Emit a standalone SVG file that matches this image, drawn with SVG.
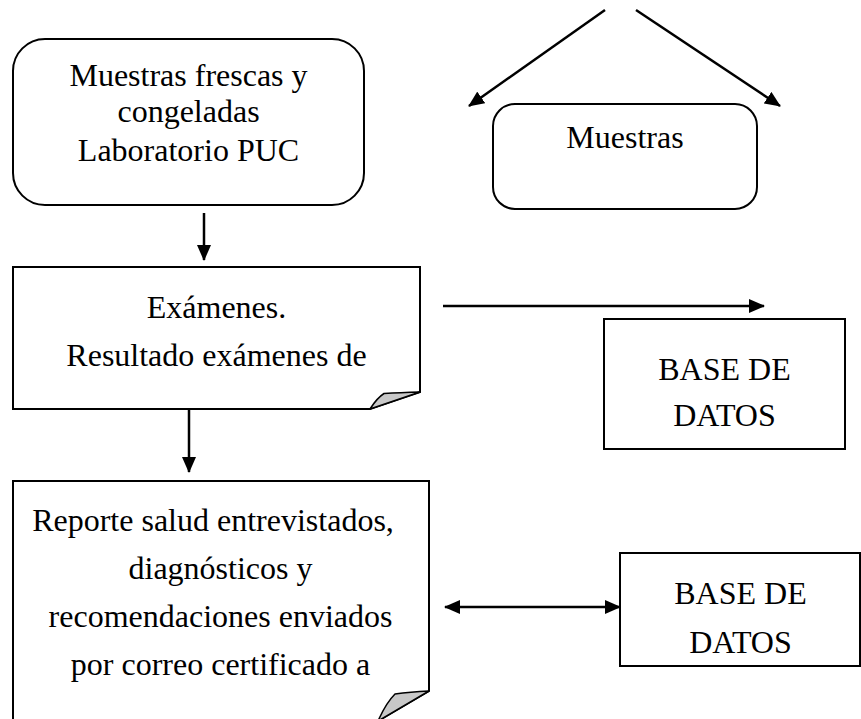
<svg xmlns="http://www.w3.org/2000/svg" width="861" height="719" viewBox="0 0 861 719">
<style>
.box{fill:#fff;stroke:#000;stroke-width:2}
.fold{fill:#c8c8c8;stroke:#000;stroke-width:1.5;stroke-linejoin:round}
.t{font-family:"Liberation Serif","Times New Roman",serif;font-size:32px;fill:#000;text-anchor:middle}
.ln{stroke:#000;stroke-width:2.5;fill:none}
</style>
<defs>
<marker id="ah" viewBox="0 0 16 14" refX="15" refY="7" markerWidth="16" markerHeight="14" markerUnits="userSpaceOnUse" orient="auto-start-reverse">
<path d="M0,0 L16,7 L0,14 Z" fill="#000"/>
</marker>
</defs>
<rect width="861" height="719" fill="#fff"/>
<g id="muestras-frescas">
<rect class="box" x="13" y="39" width="351" height="166" rx="32" ry="32"/>
<text class="t" x="188.5" y="86">Muestras frescas y</text>
<text class="t" x="188.5" y="122">congeladas</text>
<text class="t" x="188.5" y="161">Laboratorio PUC</text>
</g>
<g id="muestras">
<rect class="box" x="493" y="104" width="264" height="105" rx="22" ry="22"/>
<text class="t" x="625" y="148">Muestras</text>
</g>
<g id="examenes">
<path class="box" d="M13,267 H420 V392 L370,409 H13 Z"/>
<path class="fold" d="M370,409 Q377,398 384,393.5 Q400,392.5 420,392 Z"/>
<text class="t" x="216.5" y="318">Exámenes.</text>
<text class="t" x="216.5" y="366">Resultado exámenes de</text>
</g>
<g id="base-datos-1">
<rect class="box" x="604" y="319" width="241" height="130"/>
<text class="t" x="724.5" y="380">BASE DE</text>
<text class="t" x="724.5" y="426">DATOS</text>
</g>
<g id="reporte">
<path class="box" d="M13,481 H429 V691 L378,721 H13 Z"/>
<path class="fold" d="M378,721 Q386,703 395,694 Q410,692 429,691 Z"/>
<text class="t" x="213" y="531">Reporte salud entrevistados,</text>
<text class="t" x="220.5" y="579">diagnósticos y</text>
<text class="t" x="220.5" y="627">recomendaciones enviados</text>
<text class="t" x="220.5" y="675">por correo certificado a</text>
</g>
<g id="base-datos-2">
<rect class="box" x="620" y="553" width="240" height="113"/>
<text class="t" x="740.5" y="604">BASE DE</text>
<text class="t" x="740.5" y="653">DATOS</text>
</g>
<g id="connectors">
<line class="ln" x1="605" y1="10" x2="469" y2="106" marker-end="url(#ah)"/>
<line class="ln" x1="636" y1="10" x2="780" y2="106" marker-end="url(#ah)"/>
<line class="ln" x1="204" y1="213" x2="204" y2="260" marker-end="url(#ah)"/>
<line class="ln" x1="443" y1="306" x2="764" y2="306" marker-end="url(#ah)"/>
<line class="ln" x1="189" y1="409" x2="189" y2="472" marker-end="url(#ah)"/>
<line class="ln" x1="445" y1="607" x2="620" y2="607" marker-start="url(#ah)" marker-end="url(#ah)"/>
</g>
</svg>
